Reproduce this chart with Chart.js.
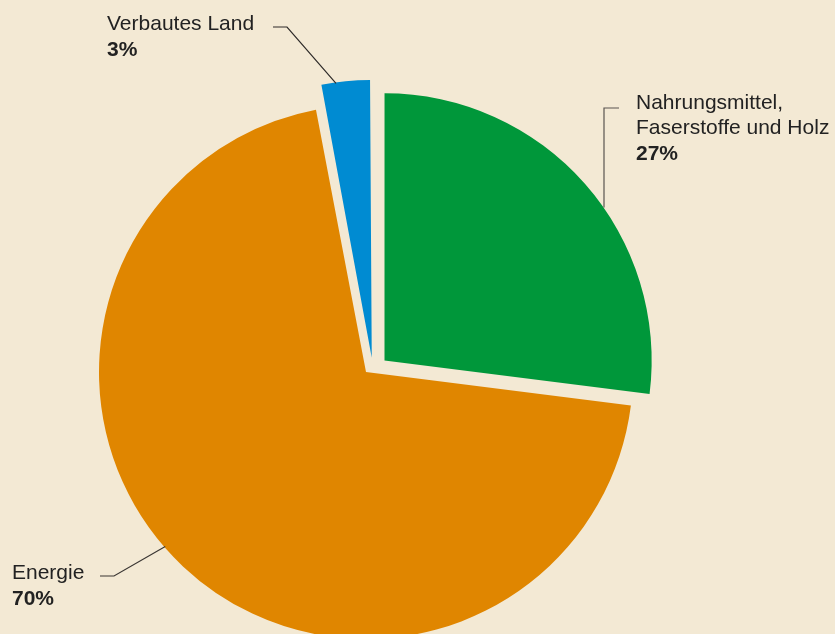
<!DOCTYPE html>
<html>
<head>
<meta charset="utf-8">
<script src="https://cdn.jsdelivr.net/npm/chart.js@4/dist/chart.umd.min.js"></script>
<style>
  html, body { margin: 0; padding: 0; background: #f3e9d4; }
  canvas { display: block; }
</style>
</head>
<body>
<canvas id="c" width="835" height="634"></canvas>
<script>
const categories = ["Nahrungsmittel, Faserstoffe und Holz", "Energie", "Verbautes Land"];
const labelLines = [["Nahrungsmittel,", "Faserstoffe und Holz"], ["Energie"], ["Verbautes Land"]];
const values = [27, 70, 3];
const percentLabels = ["27%", "70%", "3%"];
const colors = ["#00973a", "#e08600", "#008bd2"];
// Chart.js arc offset option (it translates by roughly offset/4 plus a small-arc correction)
const offsets = [88, 0, 53];
// small extra explode nudge (px) so the exploded slices sit as in the print layout
const nudges = [[2, 3], [0, 0], [7, -1]];

// label layout: text anchor (x, baseline of first line), leader elbow points, angle on arc (deg clockwise from top)
const labelLayout = [
  { x: 636, y: 109, elbow: [[619, 108], [604, 108]], angle: 54.9, vertical: true, color: '#5a5550' },
  { x: 12,  y: 579, elbow: [[100, 576], [114, 576]], angle: 229, color: '#3a3633' },
  { x: 107, y: 30,  elbow: [[273, 27], [287, 27]], angle: -7.5, color: '#2e2b29' }
];

const FONT = '"Liberation Sans", Arial, Helvetica, sans-serif';

const nudgePlugin = {
  id: 'nudge',
  afterUpdate(chart) {
    chart.getDatasetMeta(0).data.forEach((el, i) => {
      if (el._nudged) return;
      const orig = el.draw;
      el.draw = function (ctx, area) {
        ctx.save();
        ctx.translate(nudges[i][0], nudges[i][1]);
        orig.call(this, ctx, area);
        ctx.restore();
      };
      el._nudged = true;
    });
  }
};

const labelPlugin = {
  id: 'labels',
  afterDatasetsDraw(chart) {
    const ctx = chart.ctx;
    const arcs = chart.getDatasetMeta(0).data;
    ctx.save();
    arcs.forEach((arc, i) => {
      const L = labelLayout[i];
      const p = arc.getProps(['x', 'y', 'outerRadius', 'startAngle', 'endAngle', 'circumference'], true);
      const a = (L.angle - 90) * Math.PI / 180;
      const mid = (p.startAngle + p.endAngle) / 2;
      const off = (arc.options.offset || 0) / 4;
      const fix = 1 - Math.sin(Math.min(Math.PI, p.circumference || 0));
      const t = off * (1 + fix);
      const cx = p.x + Math.cos(mid) * t + nudges[i][0];
      const cy = p.y + Math.sin(mid) * t + nudges[i][1];
      const ex = cx + Math.cos(a) * (p.outerRadius - 1);
      const ey = cy + Math.sin(a) * (p.outerRadius - 1);
      ctx.strokeStyle = L.color;
      ctx.lineWidth = 1.2;
      ctx.beginPath();
      ctx.moveTo(L.elbow[0][0], L.elbow[0][1]);
      ctx.lineTo(L.elbow[1][0], L.elbow[1][1]);
      if (L.vertical) ctx.lineTo(L.elbow[1][0], ey);
      else ctx.lineTo(ex, ey);
      ctx.stroke();

      ctx.fillStyle = '#222222';
      ctx.textBaseline = 'alphabetic';
      ctx.textAlign = 'left';
      const lines = labelLines[i];
      ctx.font = '21px ' + FONT;
      lines.forEach((s, k) => ctx.fillText(s, L.x, L.y + k * 25));
      ctx.font = 'bold 21px ' + FONT;
      ctx.fillText(percentLabels[i], L.x, L.y + lines.length * 25 + 1);
    });
    ctx.restore();
  }
};

new Chart(document.getElementById('c'), {
  type: 'pie',
  data: {
    labels: categories,
    datasets: [{
      data: values,
      backgroundColor: colors,
      borderWidth: 0,
      offset: offsets,
      clip: false
    }]
  },
  options: {
    responsive: false,
    animation: false,
    radius: 267,
    layout: { padding: { left: 0, right: 103, top: 110, bottom: 0 } },
    plugins: {
      legend: { display: false },
      tooltip: { enabled: false }
    }
  },
  plugins: [nudgePlugin, labelPlugin]
});
</script>
</body>
</html>
